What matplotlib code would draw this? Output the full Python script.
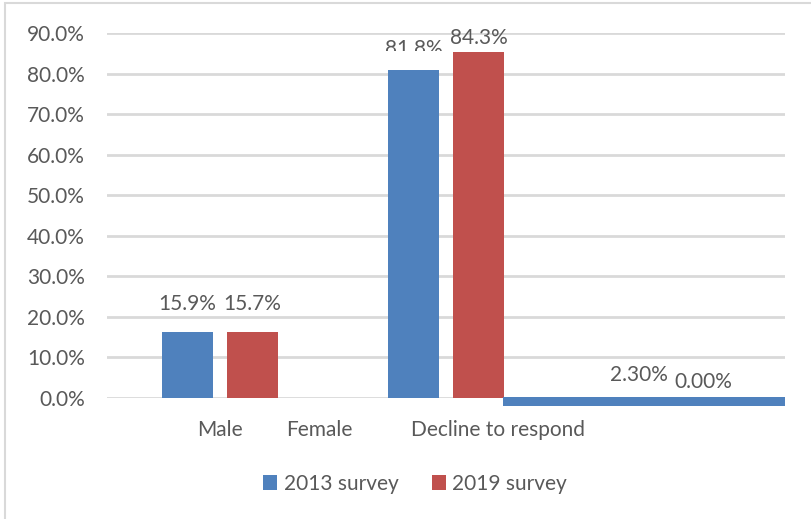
import matplotlib
matplotlib.use("Agg")
import matplotlib.pyplot as plt
from matplotlib.patches import Rectangle

# data
categories = ["Male", "Female", "Decline to respond"]
cat_pos = [0, 0.44, 1.23]          # where the category labels sit
slots = [0, 1]                       # group slots that hold bars
s2013 = [16.2, 80.9]
s2019 = [16.2, 85.2]
lab2013 = ["15.9%", "81.8%"]
lab2019 = ["15.7%", "84.3%"]
# odd flat bar on the right of the chart
extra_left, extra_right = 1.252, 2.5
extra_val = -2.1
extra_labels = ["2.30%", "0.00%"]
yticks = [0, 10, 20, 30, 40, 50, 60, 70, 80, 90]

blue = "#4F81BD"
red = "#C0504D"
grey_txt = "#595959"
grid = "#D9D9D9"
fs = 15

plt.rcParams["font.family"] = ["Lato", "DejaVu Sans"]

fig = plt.figure(figsize=(8.12, 5.19), dpi=100)
ax = fig.add_axes([107/812, 1-398/519, (785-107)/812, (398-33)/519])

off = 0.144
w = 0.226
xb = [s - off for s in slots]
xr = [s + off for s in slots]
b1 = ax.bar(xb, s2013, width=w, color=blue, zorder=3, label="2013 survey")
b2 = ax.bar(xr, s2019, width=w, color=red, zorder=3, label="2019 survey")
ax.bar((extra_left + extra_right) / 2, extra_val, bottom=0.2, width=extra_right - extra_left,
       color=blue, zorder=3, clip_on=False)

lab_dy = [[20.7, 15.0], [20.7, 10.3]]
for i in range(len(slots)):
    t1 = ax.annotate(lab2013[i], (xb[i], s2013[i]), xytext=(0, lab_dy[0][i]), textcoords="offset points",
                     ha="center", va="center", fontsize=fs, color=grey_txt, annotation_clip=False)
    ax.annotate(lab2019[i], (xr[i], s2019[i]), xytext=(0, lab_dy[1][i]), textcoords="offset points",
                ha="center", va="center", fontsize=fs, color=grey_txt, annotation_clip=False)
    if i == 1:
        # the 81.8% label is cut off at the bottom in the original
        t1.set_clip_on(True)
        t1.set_clip_path(Rectangle((0.5, 85.6), 1.0, 20, transform=ax.transData))

xc = (extra_left + extra_right) / 2
ax.annotate(extra_labels[0], (xc, 0), xytext=(-3.6, 16.6), textcoords="offset points",
            ha="center", va="center", fontsize=fs, color=grey_txt, annotation_clip=False)
ax.annotate(extra_labels[1], (xc, 0), xytext=(42.5, 11.5), textcoords="offset points",
            ha="center", va="center", fontsize=fs, color=grey_txt, annotation_clip=False)

ax.set_xlim(-0.5, 2.5)
ax.set_ylim(0, 90)
ax.set_yticks(yticks)
ax.set_yticklabels([f"{v:.1f}%" for v in yticks])
ax.set_xticks(cat_pos)
ax.set_xticklabels(categories)
ax.tick_params(axis="both", length=0, labelsize=fs, labelcolor=grey_txt)
ax.tick_params(axis="y", pad=16)
ax.tick_params(axis="x", pad=16)
ax.yaxis.grid(True, color=grid, linewidth=2, zorder=0)
for s in ax.spines.values():
    s.set_visible(False)

fig.legend(handles=[b1, b2], loc="center", bbox_to_anchor=(0.511, 1-484/519), ncol=2,
           frameon=False, fontsize=fs, labelcolor=grey_txt, handlelength=0.7, handleheight=0.7,
           handletextpad=0.3, columnspacing=1.6)

# light border round the chart area
fig.patches.append(Rectangle((5/812, -0.1), 1.2, 1.1 - 3/519, transform=fig.transFigure,
                             fill=False, edgecolor=grid, linewidth=1.5))

fig.savefig("out.png", dpi=100)
